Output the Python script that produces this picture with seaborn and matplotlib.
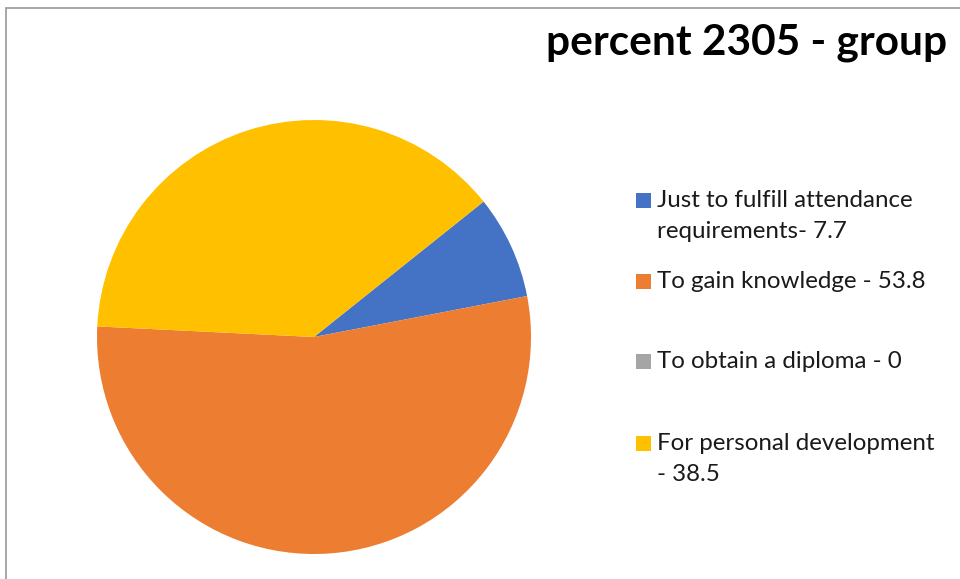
import matplotlib
matplotlib.use("Agg")
import matplotlib.pyplot as plt
from matplotlib.lines import Line2D
from matplotlib.patches import Rectangle
import seaborn as sns

# donnees du graphique
categories = ["Just to fulfill attendance\nrequirements- 7.7",
              "To gain knowledge - 53.8",
              "To obtain a diploma - 0",
              "For personal development\n- 38.5"]
valeurs = [7.7, 53.8, 0, 38.5]
couleurs = ["#4472C4", "#ED7D31", "#A5A5A5", "#FFC000"]
titre = "percent 2305 - group"

sns.set_theme(style="white")
plt.rcParams['font.family'] = ['Lato', 'DejaVu Sans']

W, H = 960, 579
fig = plt.figure(figsize=(W / 100, H / 100), dpi=100)
fig.patch.set_facecolor("white")

# camembert : centre (314, 337), rayon 217 px
cx, cy, r = 314, 337, 217
ax = fig.add_axes([(cx - r) / W, (H - cy - r) / H, 2 * r / W, 2 * r / H])
ax.pie(valeurs, colors=couleurs, startangle=38.6, counterclock=False,
       radius=1, wedgeprops=dict(linewidth=0))
ax.set_xlim(-1, 1)
ax.set_ylim(-1, 1)
ax.set_aspect("equal")
ax.axis("off")

# titre
fig.text(546 / W, 1 - 55 / H, titre, fontsize=30.5, fontweight="bold",
         ha="left", va="baseline", color="black")

# legende manuelle (espacement irregulier comme dans l'original)
pos_y = [200.5, 281.5, 361.5, 443.5]  # centre du carre en px
for lab, col, y in zip(categories, couleurs, pos_y):
    fig.add_artist(Rectangle((636 / W, 1 - (y + 7.5) / H), 15 / W, 15 / H,
                             transform=fig.transFigure, facecolor=col,
                             edgecolor="none"))
    fig.text(657 / W, 1 - (y - 10.5) / H, lab, fontsize=17.4, ha="left", va="top",
             color="#1a1a1a", linespacing=1.6)

# cadre gris (haut et gauche)
fig.add_artist(Line2D([6 / W, 6 / W], [0, 1 - 8 / H], transform=fig.transFigure,
                      color="#A0A0A0", linewidth=1.3))
fig.add_artist(Line2D([6 / W, 1], [1 - 8 / H, 1 - 8 / H], transform=fig.transFigure,
                      color="#A0A0A0", linewidth=1.3))

fig.savefig("out.png", dpi=100)
